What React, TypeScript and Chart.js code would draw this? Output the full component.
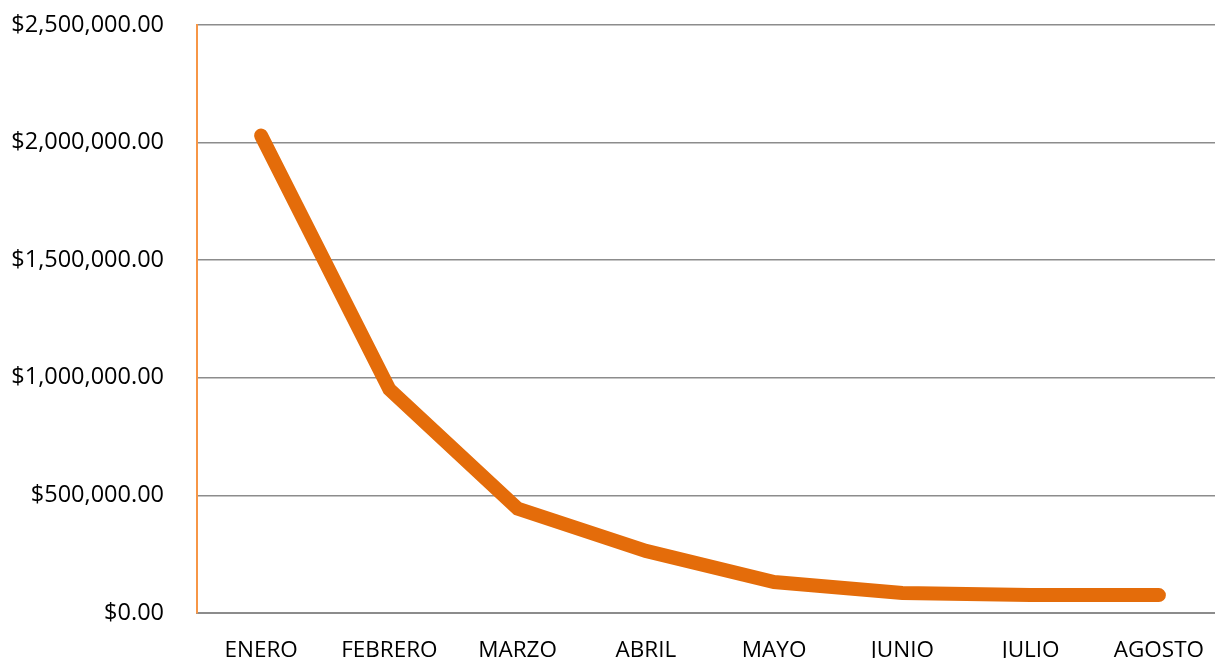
import React, { useEffect, useRef } from "react";
import { Chart, registerables } from "chart.js";

Chart.register(...registerables);

const months = ["ENERO", "FEBRERO", "MARZO", "ABRIL", "MAYO", "JUNIO", "JULIO", "AGOSTO"];
const amounts = [2030000, 951000, 444000, 264000, 132000, 85000, 77000, 76000];
const yTicks = [0, 500000, 1000000, 1500000, 2000000, 2500000];

const fmt = (v: number) =>
  "$" + v.toLocaleString("en-US", { minimumFractionDigits: 2, maximumFractionDigits: 2 });

export default function App() {
  const ref = useRef<HTMLCanvasElement>(null);
  useEffect(() => {
    if (!ref.current) return;
    const chart = new Chart(ref.current, {
      type: "line",
      data: {
        labels: months,
        datasets: [
          {
            data: amounts,
            borderColor: "#E46C0A",
            backgroundColor: "#E46C0A",
            borderWidth: 14,
            borderCapStyle: "round",
            borderJoinStyle: "miter",
            pointRadius: 0,
            tension: 0,
          },
        ],
      },
      options: {
        animation: false,
        responsive: false,
        devicePixelRatio: 1,
        layout: { padding: { top: 25, right: 0, left: 0, bottom: 0 } },
        plugins: { legend: { display: false }, tooltip: { enabled: false } },
        scales: {
          x: {
            offset: true,
            grid: { display: false, drawTicks: false },
            border: { display: true, color: "#8c8c8c", width: 2 },
            ticks: {
              color: "#000",
              padding: 24,
              maxRotation: 0,
              autoSkip: false,
              font: { family: "'Open Sans'", size: 22.5 },
            },
            afterFit: (s: any) => {
              s.height = 45;
              s.paddingLeft = 0;
              s.paddingRight = 0;
            },
          },
          y: {
            min: 0,
            max: 2500000,
            afterBuildTicks: (s: any) => {
              s.ticks = yTicks.map((v) => ({ value: v }));
            },
            grid: { color: "#8c8c8c", lineWidth: 1.5, drawTicks: false },
            border: { display: true, color: "#F79646", width: 2 },
            ticks: {
              color: "#000",
              padding: 33,
              font: { family: "'Open Sans'", size: 23.5 },
              callback: (v: any) => fmt(Number(v)),
            },
            afterFit: (s: any) => {
              s.width = 197;
              s.paddingTop = 0;
              s.paddingBottom = 0;
            },
          },
        },
      },
    });
    return () => chart.destroy();
  }, []);
  return (
    <div
      style={{
        position: "absolute",
        left: 0,
        top: 0,
        width: 1215,
        height: 658,
        overflow: "hidden",
        background: "#fff",
      }}
    >
      <canvas ref={ref} width={1223} height={658} style={{ display: "block" }} />
    </div>
  );
}
